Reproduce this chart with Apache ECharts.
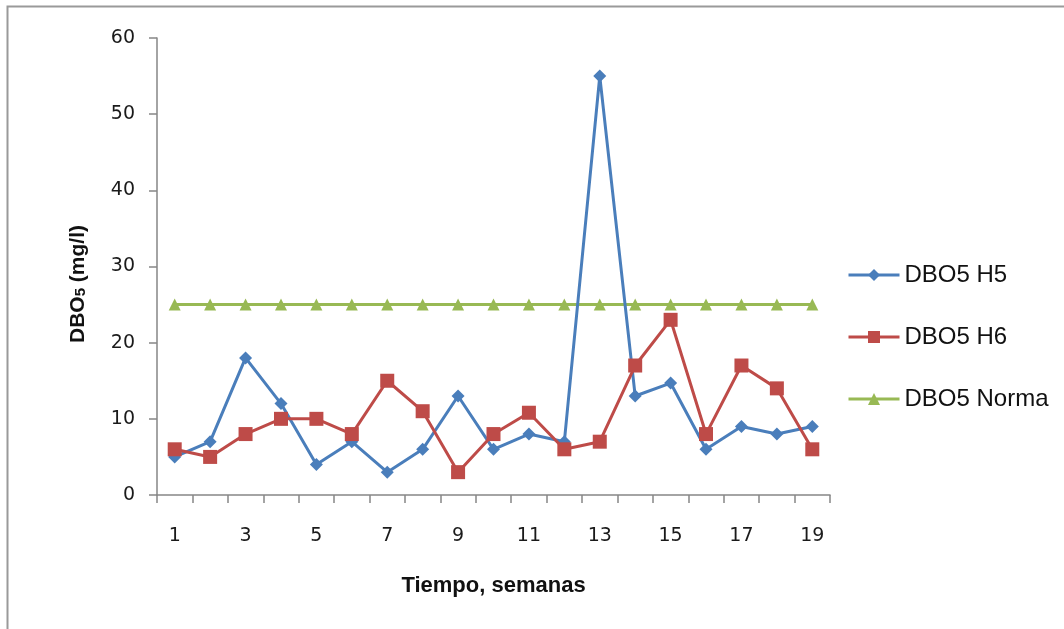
<!DOCTYPE html>
<html>
<head>
<meta charset="utf-8">
<script src="https://cdn.jsdelivr.net/npm/echarts@6/dist/echarts.min.js"></script>
<style>
html,body{margin:0;padding:0;background:#fff;}
#main{width:1064px;height:629px;}
</style>
</head>
<body>
<div id="main"></div>
<script>
var weeks = ['1','2','3','4','5','6','7','8','9','10','11','12','13','14','15','16','17','18','19'];
var h5 = [5, 7, 18, 12, 4, 7, 3, 6, 13, 6, 8, 7, 55, 13, 14.7, 6, 9, 8, 9];
var h6 = [6, 5, 8, 10, 10, 8, 15, 11, 3, 8, 10.8, 6, 7, 17, 23, 8, 17, 14, 6];
var norma = [25, 25, 25, 25, 25, 25, 25, 25, 25, 25, 25, 25, 25, 25, 25, 25, 25, 25, 25];
var yTicks = [0, 10, 20, 30, 40, 50, 60];

var chart = echarts.init(document.getElementById('main'));
var axisColor = '#868686';
var labelFont = {fontFamily: 'DejaVu Sans', fontSize: 19, color: '#1a1a1a'};
chart.setOption({
  animation: false,
  backgroundColor: '#fff',
  graphic: [
    {type: 'rect', shape: {x: 7.5, y: 6.5, width: 1200, height: 800}, style: {fill: 'none', stroke: '#9a9a9a', lineWidth: 2}, silent: true},
    {type: 'text', x: 78, y: 284, rotation: Math.PI / 2,
     style: {text: 'DBO{s|5} (mg/l)', fontFamily: 'Liberation Sans', fontWeight: 'bold', fontSize: 21, fill: '#111',
             align: 'center', verticalAlign: 'middle',
             rich: {s: {fontFamily: 'Liberation Sans', fontWeight: 'bold', fontSize: 15, fill: '#111', padding: [6, 0, 0, 0]}}}}
  ],
  legend: {
    orient: 'vertical',
    left: 842,
    top: 258,
    itemWidth: 51,
    itemHeight: 15,
    itemGap: 38,
    lineStyle: {width: 3},
    textStyle: {fontFamily: 'Liberation Sans', fontSize: 24, color: '#111', lineHeight: 24},
    data: ['DBO5 H5', 'DBO5 H6', 'DBO5 Norma']
  },
  grid: {left: 157, top: 38, width: 673, height: 457, containLabel: false},
  xAxis: {
    type: 'category',
    data: weeks,
    boundaryGap: true,
    name: 'Tiempo, semanas',
    nameLocation: 'middle',
    nameGap: 80,
    nameTextStyle: {fontFamily: 'Liberation Sans', fontWeight: 'bold', fontSize: 22, color: '#111'},
    axisLine: {lineStyle: {color: axisColor, width: 1.5}},
    axisTick: {show: true, interval: 0, length: 8, lineStyle: {color: axisColor, width: 1.5}},
    axisLabel: Object.assign({interval: 1, margin: 32}, labelFont),
    splitLine: {show: false}
  },
  yAxis: {
    type: 'value',
    min: yTicks[0],
    max: yTicks[yTicks.length - 1],
    interval: 10,
    axisLine: {show: true, lineStyle: {color: axisColor, width: 1.5}},
    axisTick: {show: true, length: 8, lineStyle: {color: axisColor, width: 1.5}},
    axisLabel: Object.assign({margin: 22}, labelFont),
    splitLine: {show: false}
  },
  series: [
    {name: 'DBO5 H5', type: 'line', data: h5, symbol: 'diamond', symbolSize: 13,
     lineStyle: {color: '#4a7ebb', width: 3}, itemStyle: {color: '#4a7ebb'}, z: 3},
    {name: 'DBO5 H6', type: 'line', data: h6, symbol: 'rect', symbolSize: 14,
     lineStyle: {color: '#be4b48', width: 3}, itemStyle: {color: '#be4b48'}, z: 4},
    {name: 'DBO5 Norma', type: 'line', data: norma, symbol: 'triangle', symbolSize: 12,
     lineStyle: {color: '#98b954', width: 3}, itemStyle: {color: '#98b954'}, z: 2}
  ]
});
</script>
</body>
</html>
